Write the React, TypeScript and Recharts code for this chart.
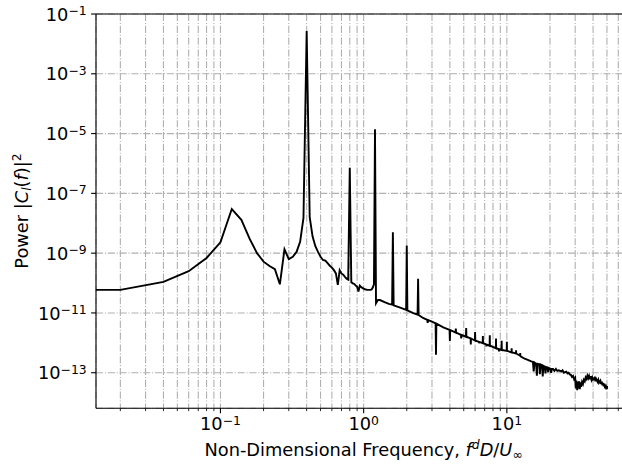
import { CartesianGrid, Line, LineChart, ReferenceLine, XAxis, YAxis } from "recharts";

// Lift-coefficient power spectrum.
// [frequency f^d D / U_inf, power |C_l(f)|^2]
const lowBand: [number, number][] = [
  [0.01, 5.9e-11], [0.02, 5.9e-11], [0.04, 1.1e-10], [0.06, 2.5e-10],
  [0.08, 6.9e-10], [0.1, 2.3e-9], [0.12, 3.0e-8], [0.14, 1.3e-8],
  [0.16, 3.0e-9], [0.18, 1.0e-9], [0.2, 5.2e-10], [0.22, 3.7e-10],
  [0.24, 2.9e-10], [0.26, 9.1e-11], [0.28, 1.35e-9], [0.3, 6.3e-10],
  [0.32, 7.6e-10], [0.34, 1.1e-9], [0.36, 2.4e-9], [0.38, 1.5e-8],
];

// shedding peak at 0.4 and the region up to the 3rd harmonic
const sheddingBand: [number, number][] = [
  [0.4, 2.7e-2], [0.42, 1.6e-8], [0.44, 3.6e-9], [0.46, 1.7e-9],
  [0.48, 1.1e-9], [0.5, 7.6e-10], [0.52, 5.9e-10], [0.54, 5.6e-10],
  [0.56, 4.6e-10], [0.58, 3.8e-10], [0.6, 3.3e-10], [0.62, 2.7e-10],
  [0.64, 2.1e-10], [0.66, 8.7e-11], [0.68, 2.7e-10], [0.7, 2.1e-10],
  [0.72, 1.9e-10], [0.74, 1.6e-10], [0.76, 1.4e-10], [0.78, 1.3e-10],
  [0.8, 7.2e-7], [0.82, 1.07e-10], [0.84, 9.8e-11], [0.86, 9.3e-11],
  [0.88, 8.2e-11], [0.9, 7.6e-11], [0.92, 5.2e-11], [0.94, 8.2e-11],
  [0.96, 7.4e-11], [0.98, 6.9e-11], [1.0, 6.5e-11], [1.02, 6.2e-11],
  [1.06, 5.9e-11], [1.12, 5.9e-11], [1.14, 6.2e-11], [1.16, 7.2e-11],
  [1.18, 9.0e-11], [1.2, 1.4e-5],
];

// harmonics of the shedding frequency riding on the decaying floor
const harmonicBand: [number, number][] = [
  [1.22, 2.1e-11], [1.24, 2.4e-11], [1.26, 2.7e-11], [1.3, 2.7e-11],
  [1.4, 2.3e-11], [1.5, 2.0e-11], [1.58, 1.9e-11], [1.6, 5.0e-9],
  [1.62, 1.8e-11], [1.8, 1.5e-11], [1.98, 1.26e-11], [2.0, 1.8e-9],
  [2.02, 1.22e-11], [2.2, 1.0e-11], [2.38, 8.7e-12], [2.4, 1.4e-10],
  [2.42, 8.5e-12], [2.6, 6.8e-12], [2.78, 5.9e-12], [2.8, 4.7e-12],
  [2.82, 5.8e-12], [3.0, 5.1e-12], [3.18, 4.5e-12], [3.2, 4.0e-13],
  [3.22, 4.4e-12], [3.6, 3.3e-12], [3.98, 2.7e-12], [4.0, 1.15e-12],
  [4.02, 2.7e-12], [4.38, 2.2e-12], [4.4, 3.0e-12], [4.42, 2.2e-12],
  [4.78, 1.85e-12], [4.8, 1.4e-12], [4.82, 1.85e-12], [5.18, 1.6e-12],
  [5.2, 3.1e-12], [5.22, 1.6e-12], [5.58, 1.4e-12], [5.6, 8.9e-13],
  [5.62, 1.4e-12], [5.98, 1.2e-12], [6.0, 2.3e-12], [6.02, 1.2e-12],
  [6.38, 1.08e-12], [6.4, 9.7e-13], [6.42, 1.07e-12], [6.78, 9.8e-13],
  [6.8, 1.7e-12], [6.82, 9.7e-13], [7.18, 8.9e-13], [7.2, 7.6e-13],
  [7.22, 8.8e-13], [7.58, 8.0e-13], [7.6, 1.8e-12], [7.62, 8.0e-13],
  [8.38, 6.6e-13], [8.4, 1.4e-12], [8.42, 6.6e-13], [8.78, 6.2e-13],
  [8.8, 5.2e-13], [8.82, 6.1e-13], [9.18, 5.8e-13], [9.2, 1.17e-12],
  [9.22, 5.8e-13], [9.98, 5.4e-13], [10.0, 1.09e-12], [10.02, 5.4e-13],
  [10.78, 4.8e-13], [10.8, 6.6e-13], [10.82, 4.8e-13], [11.58, 4.4e-13],
  [11.6, 5.6e-13], [11.62, 4.4e-13], [12.38, 3.7e-13], [12.4, 4.6e-13],
  [12.42, 3.6e-13],
];

// broadband tail up to f = 50
const tailBand: [number, number][] = [
  [13.2, 3.0e-13], [14.0, 2.7e-13], [14.8, 2.4e-13], [15.2, 2.3e-13],
  [15.4, 1.1e-13], [15.6, 2.2e-13], [16.0, 2.0e-13], [16.2, 8.0e-14],
  [16.4, 2.0e-13], [16.9, 1.9e-13], [17.0, 9.0e-14], [17.2, 1.9e-13],
  [17.6, 1.8e-13], [17.8, 7.5e-14], [18.0, 1.7e-13], [18.4, 1.6e-13],
  [18.6, 9.5e-14], [18.8, 1.55e-13], [19.2, 1.5e-13], [19.4, 1.05e-13],
  [19.6, 1.45e-13], [20.0, 1.4e-13], [20.4, 1.0e-13], [20.6, 1.35e-13],
  [21.0, 1.35e-13], [21.5, 1.15e-13], [22.0, 1.35e-13], [22.5, 1.15e-13],
  [23.0, 1.2e-13], [24.0, 1.1e-13], [24.5, 1.2e-13], [25.0, 1.0e-13],
  [26.0, 1.08e-13], [26.5, 9.5e-14], [27.0, 1.0e-13], [27.5, 8.8e-14],
  [28.0, 8.5e-14], [28.5, 7.2e-14], [29.0, 7.8e-14], [29.5, 6.0e-14],
  [30.0, 6.8e-14], [30.3, 3.0e-14], [30.6, 5.5e-14], [31.0, 2.6e-14],
  [31.3, 5.0e-14], [31.6, 3.0e-14], [32.0, 5.2e-14], [32.3, 2.8e-14],
  [32.7, 4.8e-14], [33.0, 3.4e-14], [33.5, 5.0e-14], [34.0, 4.2e-14],
  [34.5, 5.8e-14], [35.0, 5.2e-14], [35.5, 7.0e-14], [36.0, 6.2e-14],
  [36.5, 8.0e-14], [37.0, 6.5e-14], [37.5, 7.8e-14], [38.0, 6.0e-14],
  [38.5, 7.6e-14], [39.0, 5.8e-14], [39.5, 7.0e-14], [40.0, 5.9e-14],
  [41.0, 6.8e-14], [41.5, 5.2e-14], [42.0, 6.3e-14], [43.0, 5.0e-14],
  [43.5, 5.8e-14], [44.0, 4.6e-14], [45.0, 5.4e-14], [45.5, 4.2e-14],
  [46.0, 5.0e-14], [46.5, 3.8e-14], [47.0, 4.6e-14], [47.5, 3.5e-14],
  [48.0, 4.3e-14], [48.5, 3.0e-14], [49.0, 4.0e-14], [49.5, 2.8e-14],
  [50.0, 3.6e-14], [50.2, 2.9e-14],
];

// log grid: every integer multiple of each decade, labels only on the decades
const xTicks = [
  0.02, 0.03, 0.04, 0.05, 0.06, 0.07, 0.08, 0.09,
  0.1, 0.2, 0.3, 0.4, 0.5, 0.6, 0.7, 0.8, 0.9,
  1, 2, 3, 4, 5, 6, 7, 8, 9,
  10, 20, 30, 40, 50, 60, 70,
];
const yTicks = [1e-13, 1e-11, 1e-9, 1e-7, 1e-5, 1e-3, 1e-1];

const xDomain = [0.01352, 73.96];
const yDomain = [6.46e-15, 0.1];

const data = [...lowBand, ...sheddingBand, ...harmonicBand, ...tailBand].map(([f, p]) => ({ f, p }));

const FONT = "DejaVu Sans";
const FS = 17.8;
const FS_SUP = 12.4;
const W = 640;
const H = 465;
const X_AXIS_H = 56.7;
const Y_AXIS_W = 96;
const GRID = "#b0b0b0";
const DASHDOT = "7.1 1.8 1.1 1.8";

const expText = (v: number) => {
  const e = Math.round(Math.log10(v));
  return e < 0 ? `\u2212${-e}` : `${e}`;
};

function XTick({ x, y, payload }: any) {
  const v = payload.value;
  const e = Math.log10(v);
  const major = Math.abs(e - Math.round(e)) < 1e-6;
  return (
    <g>
      <line x1={x} x2={x} y1={y} y2={y + (major ? 4.9 : 2.8)} stroke="#000" strokeWidth={major ? 1.1 : 0.85} />
      {major && (
        <text x={x} y={y + 21.8} textAnchor="middle" fontFamily={FONT} fontSize={FS} fill="#000">
          10<tspan dy={-5.5} fontSize={FS_SUP}>{expText(v)}</tspan>
        </text>
      )}
    </g>
  );
}

function YTick({ x, y, payload }: any) {
  return (
    <g>
      <line x1={x - 4.9} x2={x} y1={y} y2={y} stroke="#000" strokeWidth={1.1} />
      <text x={x - 9.3} y={y + 6.6} textAnchor="end" fontFamily={FONT} fontSize={FS} fill="#000">
        10<tspan dy={-5.5} fontSize={FS_SUP}>{expText(payload.value)}</tspan>
      </text>
    </g>
  );
}

export default function App() {
  return (
    <div style={{ position: "absolute", left: 0, top: 0, width: 622, height: 465, overflow: "hidden", background: "#fff" }}>
      <LineChart width={W} height={H} data={data} margin={{ top: 14, right: 8.7, left: 0, bottom: 0 }}>
        <CartesianGrid stroke={GRID} strokeWidth={1.1} strokeDasharray={DASHDOT} />
        <XAxis
          dataKey="f"
          type="number"
          scale="log"
          domain={xDomain}
          allowDataOverflow
          ticks={xTicks}
          interval={0}
          height={X_AXIS_H}
          tickSize={0}
          tickMargin={0}
          tickLine={false}
          tick={<XTick />}
          axisLine={{ stroke: "#000", strokeWidth: 1.1 }}
        />
        <YAxis
          type="number"
          scale="log"
          domain={yDomain}
          allowDataOverflow
          ticks={yTicks}
          interval={0}
          width={Y_AXIS_W}
          tickSize={0}
          tickMargin={0}
          tickLine={false}
          tick={<YTick />}
          axisLine={{ stroke: "#000", strokeWidth: 1.1 }}
        />
        <ReferenceLine y={0.1} stroke="#000" strokeWidth={1.1} ifOverflow="visible" />
        <Line
          type="linear"
          dataKey="p"
          stroke="#000"
          strokeWidth={1.9}
          dot={false}
          activeDot={false}
          isAnimationActive={false}
        />
      </LineChart>
      <svg width={622} height={465} style={{ position: "absolute", left: 0, top: 0, pointerEvents: "none" }}>
        <text x={363.6} y={456} textAnchor="middle" fontFamily={FONT} fontSize={FS} fill="#000">
          {"Non-Dimensional Frequency, "}
          <tspan fontStyle="italic">f</tspan>
          <tspan fontStyle="italic" fontSize={FS_SUP} dy={-7}>d</tspan>
          <tspan fontStyle="italic" dy={7}>D</tspan>
          <tspan>/</tspan>
          <tspan fontStyle="italic">U</tspan>
          <tspan fontSize={FS_SUP} dy={3}>{"\u221e"}</tspan>
        </text>
        <text x={28} y={211} transform="rotate(-90 28 211)" textAnchor="middle" fontFamily={FONT} fontSize={FS} fill="#000">
          {"Power |"}
          <tspan fontStyle="italic">C</tspan>
          <tspan fontStyle="italic" fontSize={FS_SUP} dy={3}>l</tspan>
          <tspan dy={-3}>(</tspan>
          <tspan fontStyle="italic">f</tspan>
          <tspan>)|</tspan>
          <tspan fontSize={FS_SUP} dy={-7.5}>2</tspan>
        </text>
      </svg>
    </div>
  );
}
